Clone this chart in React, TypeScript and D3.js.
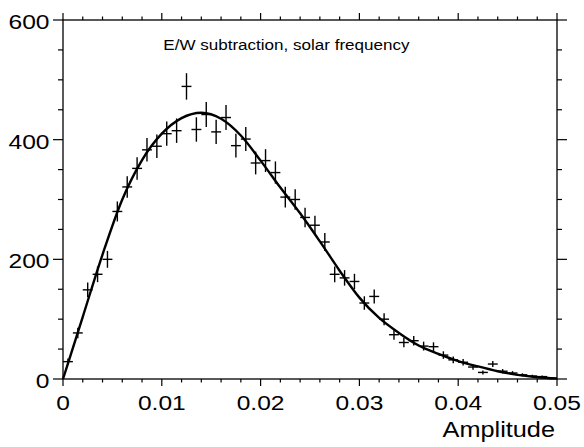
import React from "react";
import * as d3 from "d3";

const binCenters = d3.range(50).map((k) => 0.0005 + k * 0.001);
const counts = [
  29, 77, 149, 175, 200, 280, 321, 352, 383, 389,
  410, 415, 489, 417, 442, 413, 437, 390, 401, 361,
  365, 345, 304, 300, 270, 257, 229, 175, 169, 163,
  127, 138, 100, 74, 61, 64, 55, 54, 40, 32,
  28, 20, 11, 25, 13, 10, 7, 5, 4, 1,
];
const errors = [
  5.4, 8.8, 12.2, 13.2, 14.1, 16.7, 17.9, 18.8, 19.6, 19.7,
  20.2, 20.4, 22.1, 20.4, 21.0, 20.3, 20.9, 19.7, 20.0, 19.0,
  19.1, 18.6, 17.4, 17.3, 16.4, 16.0, 15.1, 13.2, 13.0, 12.8,
  11.3, 11.7, 10.0, 8.6, 7.8, 8.0, 7.4, 7.3, 6.3, 5.7,
  5.3, 4.5, 3.3, 5.0, 3.6, 3.2, 2.6, 2.2, 2.0, 1.0,
];
const halfBin = 0.0005;

const fitX = [
  0, 0.002, 0.004, 0.006, 0.008, 0.01, 0.012, 0.014, 0.016, 0.018, 0.02,
  0.022, 0.024, 0.026, 0.028, 0.03, 0.032, 0.034, 0.036, 0.038, 0.04,
  0.042, 0.044, 0.046, 0.048, 0.05,
];
const fitY = [
  0, 104, 208, 300, 366, 410, 436, 445, 435, 407, 365,
  320, 277, 230, 181, 136, 102, 77, 56, 42, 30,
  21, 13, 7, 3, 1,
];

const xTicks = [0, 0.01, 0.02, 0.03, 0.04, 0.05];
const xTickLabels = ["0", "0.01", "0.02", "0.03", "0.04", "0.05"];
const yTicks = [0, 200, 400, 600];
const yTickLabels = ["0", "200", "400", "600"];
const xMinorStep = 0.002;
const yMinorStep = 50;
const title = "E/W subtraction, solar frequency";
const xTitle = "Amplitude";

const W = 584;
const H = 447;
const L = 63;
const R = 557;
const T = 20;
const B = 379;

export default function App() {
  const x = d3.scaleLinear().domain([0, 0.05]).range([L, R]);
  const y = d3.scaleLinear().domain([0, 600]).range([B, T]);
  const xMinor = d3.range(0, 0.05 + 1e-9, xMinorStep);
  const yMinor = d3.range(0, 600 + 1e-9, yMinorStep);
  const line = d3
    .line<number>()
    .x((_, i) => x(fitX[i]))
    .y((d) => y(d))
    .curve(d3.curveMonotoneX);
  const font = "'Liberation Sans', Arial, Helvetica, sans-serif";
  const isMajorX = (v: number) => xTicks.some((t) => Math.abs(t - v) < 1e-9);
  const isMajorY = (v: number) => yTicks.some((t) => Math.abs(t - v) < 1e-9);

  return (
    <svg
      width={W}
      height={H}
      style={{ position: "absolute", left: 0, top: 0, background: "#fff" }}
      fontFamily={font}
    >
      <rect x={0} y={0} width={W} height={H} fill="#fff" />
      {/* ticks */}
      <g stroke="#000" strokeWidth={1.2}>
        {xMinor.map((v, i) => {
          const len = isMajorX(v) ? 7 : 3.5;
          return (
            <g key={"xt" + i}>
              <line x1={x(v)} x2={x(v)} y1={B} y2={B + len} />
              <line x1={x(v)} x2={x(v)} y1={T} y2={T - len} />
            </g>
          );
        })}
        {yMinor.map((v, i) => {
          const len = isMajorY(v) ? 10 : 5;
          return (
            <g key={"yt" + i}>
              <line x1={L} x2={L - len} y1={y(v)} y2={y(v)} />
              <line x1={R} x2={R + len} y1={y(v)} y2={y(v)} />
            </g>
          );
        })}
      </g>
      <rect
        x={L}
        y={T}
        width={R - L}
        height={B - T}
        fill="none"
        stroke="#000"
        strokeWidth={1.3}
      />
      {/* tick labels */}
      {xTicks.map((v, i) => (
        <text
          key={"xl" + i}
          transform={`translate(${x(v)},410) scale(1.17,1)`}
          textAnchor="middle"
          fontSize={21}
        >
          {xTickLabels[i]}
        </text>
      ))}
      {yTicks.map((v, i) => (
        <text
          key={"yl" + i}
          transform={`translate(49.5,${y(v) + 9}) scale(1.2,1)`}
          textAnchor="end"
          fontSize={20.5}
        >
          {yTickLabels[i]}
        </text>
      ))}
      <text
        transform={`translate(555,437) scale(1.15,1)`}
        textAnchor="end"
        fontSize={22}
      >
        {xTitle}
      </text>
      <text
        transform={`translate(163.3,50) scale(1.1,1)`}
        fontSize={15.5}
      >
        {title}
      </text>
      {/* fit curve */}
      <path d={line(fitY) || ""} fill="none" stroke="#000" strokeWidth={2.4} />
      {/* data points */}
      <g stroke="#000" strokeWidth={1.4}>
        {counts.map((c, i) => (
          <g key={"p" + i}>
            <line
              x1={x(binCenters[i] - halfBin)}
              x2={x(binCenters[i] + halfBin)}
              y1={y(c)}
              y2={y(c)}
            />
            <line
              x1={x(binCenters[i])}
              x2={x(binCenters[i])}
              y1={y(c - errors[i])}
              y2={y(c + errors[i])}
            />
          </g>
        ))}
      </g>
    </svg>
  );
}
